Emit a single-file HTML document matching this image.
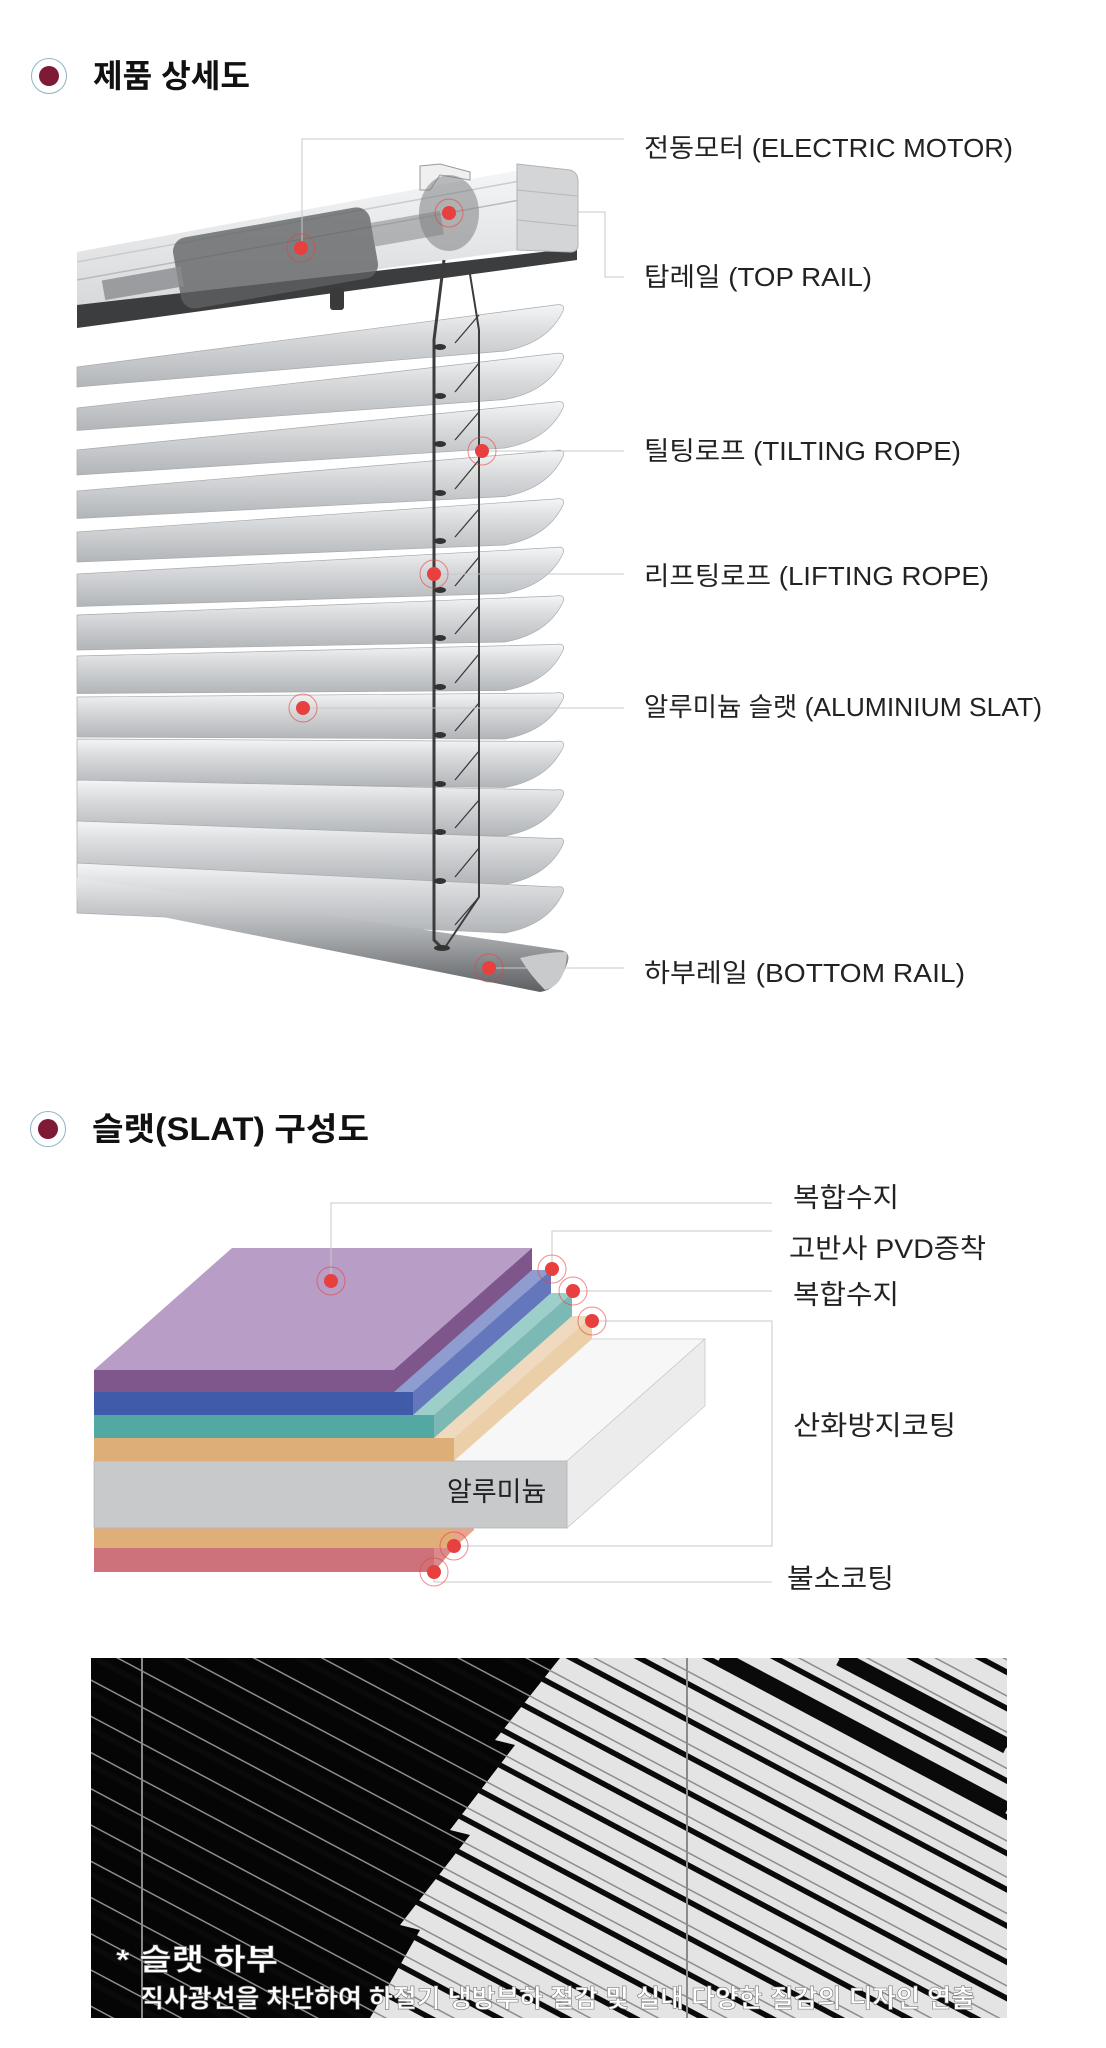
<!DOCTYPE html>
<html><head><meta charset="utf-8"><style>
html,body{margin:0;padding:0;background:#fff;width:1106px;height:2048px;overflow:hidden;}
svg{display:block;}
text{font-family:"Liberation Sans","Noto Sans CJK KR",sans-serif;}
</style></head><body>
<svg width="1106" height="2048" viewBox="0 0 1106 2048" xmlns="http://www.w3.org/2000/svg">
<defs>
<linearGradient id="slat" x1="0" y1="0" x2="0" y2="1">
<stop offset="0" stop-color="#f4f5f6"/><stop offset="0.35" stop-color="#d9dbdd"/><stop offset="1" stop-color="#b2b5b8"/></linearGradient>
<linearGradient id="rail" x1="0" y1="0" x2="0" y2="1">
<stop offset="0" stop-color="#f4f5f6"/><stop offset="1" stop-color="#d6d8da"/></linearGradient>
<linearGradient id="brail" x1="0" y1="0" x2="0" y2="1">
<stop offset="0" stop-color="#e8e9ea"/><stop offset="0.5" stop-color="#a9acaf"/><stop offset="1" stop-color="#5d6063"/></linearGradient>
<pattern id="stripes" patternUnits="userSpaceOnUse" x="0" y="0" width="200" height="32" patternTransform="rotate(28)">
<rect x="0" y="0" width="200" height="1.5" fill="#8c8c8c"/>
<rect x="0" y="9" width="200" height="5.5" fill="#0a0a0a"/>
</pattern>
<clipPath id="ph"><rect x="91" y="1658" width="916" height="360"/></clipPath>
</defs>
<!-- Section 1 title -->
<circle cx="49" cy="76" r="17.5" fill="#fff" stroke="#8fb2c8" stroke-width="1"/>
<circle cx="49" cy="76" r="10" fill="#7e1a36"/>
<text x="93" y="87" font-size="32" font-weight="bold" fill="#111" textLength="157" lengthAdjust="spacingAndGlyphs">제품 상세도</text>

<!-- Top rail -->
<polygon points="77,252 520,170 520,250 77,310" fill="url(#rail)"/>
<line x1="77" y1="262" x2="520" y2="181" stroke="#c9cbcd" stroke-width="1.5"/>
<line x1="77" y1="280" x2="520" y2="200" stroke="#b8babc" stroke-width="1.5"/>
<polygon points="77,305 577,248 577,260 77,328" fill="#3b3d3f"/>
<polygon points="420,166 440,164 470,172 470,180 440,175 430,190 420,190" fill="#f0f0f0" stroke="#999" stroke-width="1"/>
<path d="M517,164 L570,170 Q578,172 578,182 L578,246 Q577,252 570,252 L517,250 Z" fill="#d3d5d7" stroke="#b0b2b4"/>
<line x1="517" y1="190" x2="577" y2="196" stroke="#b5b7b9"/>
<line x1="517" y1="220" x2="577" y2="226" stroke="#b5b7b9"/>
<g transform="rotate(-10 275 255)">
<rect x="175" y="222" width="200" height="72" rx="14" fill="#5f6163" opacity="0.78"/>
<rect x="100" y="250" width="80" height="20" fill="#8a8c8e" opacity="0.8"/>
<rect x="375" y="240" width="70" height="24" fill="#8d8f91" opacity="0.6"/>
</g>
<ellipse cx="449" cy="213" rx="30" ry="38" fill="#7d7f81" opacity="0.55"/>
<rect x="330" y="288" width="14" height="22" rx="3" fill="#3a3a3a"/>

<!-- slats -->
<g fill="url(#slat)" stroke="#a7abaf" stroke-width="0.7">
<path d="M77,367 L555,305 Q566,303 563,311 Q548,343 505,351 L77,387 Z"/>
<path d="M77,408 L555,353.5 Q566,351.5 563,359.5 Q548,391.5 505,399.5 L77,430.5 Z"/>
<path d="M77,450 L555,402 Q566,400 563,408 Q548,440 505,448 L77,475 Z"/>
<path d="M77,491 L555,450.5 Q566,448.5 563,456.5 Q548,488.5 505,496.5 L77,518.5 Z"/>
<path d="M77,532 L555,499 Q566,497 563,505 Q548,537 505,545 L77,562 Z"/>
<path d="M77,574 L555,547.5 Q566,545.5 563,553.5 Q548,585.5 505,593.5 L77,606.5 Z"/>
<path d="M77,615 L555,596 Q566,594 563,602 Q548,634 505,642 L77,650 Z"/>
<path d="M77,656 L555,644.5 Q566,642.5 563,650.5 Q548,682.5 505,690.5 L77,693.5 Z"/>
<path d="M77,697 L555,693 Q566,691 563,699 Q548,731 505,739 L77,737 Z"/>
<path d="M77,739 L555,741.5 Q566,739.5 563,747.5 Q548,779.5 505,787.5 L77,781.5 Z"/>
<path d="M77,780 L555,790 Q566,788 563,796 Q548,828 505,836 L77,825 Z"/>
<path d="M77,821 L555,838.5 Q566,836.5 563,844.5 Q548,876.5 505,884.5 L77,868.5 Z"/>
<path d="M77,863 L555,887 Q566,885 563,893 Q548,925 505,933 L77,913 Z"/>
</g>
<path d="M77,878 L560,950 Q572,952 567,964 Q558,990 540,992 L77,900 Z" fill="url(#brail)"/>
<path d="M520,958 Q545,952 567,952 Q566,985 545,990 Q530,975 520,958 Z" fill="#c8cacc"/>

<!-- ropes -->
<g stroke="#3c3c3c" fill="none">
<polyline points="444,260 434,340 434,940 442,948" stroke-width="3"/>
<polyline points="468,262 479,330 479,897 446,946" stroke-width="2"/>
<g stroke-width="1.3">
<line x1="479" y1="315" x2="455" y2="343"/><line x1="479" y1="363" x2="455" y2="392"/>
<line x1="479" y1="412" x2="455" y2="440"/><line x1="479" y1="460" x2="455" y2="489"/>
<line x1="479" y1="509" x2="455" y2="537"/><line x1="479" y1="557" x2="455" y2="586"/>
<line x1="479" y1="606" x2="455" y2="634"/><line x1="479" y1="654" x2="455" y2="683"/>
<line x1="479" y1="703" x2="455" y2="731"/><line x1="479" y1="751" x2="455" y2="780"/>
<line x1="479" y1="800" x2="455" y2="828"/><line x1="479" y1="848" x2="455" y2="877"/>
<line x1="479" y1="897" x2="455" y2="925"/>
</g></g>
<g fill="#333">
<ellipse cx="440" cy="347" rx="6" ry="3"/><ellipse cx="440" cy="396" rx="6" ry="3"/>
<ellipse cx="440" cy="444" rx="6" ry="3"/><ellipse cx="440" cy="493" rx="6" ry="3"/>
<ellipse cx="440" cy="541" rx="6" ry="3"/><ellipse cx="440" cy="590" rx="6" ry="3"/>
<ellipse cx="440" cy="638" rx="6" ry="3"/><ellipse cx="440" cy="687" rx="6" ry="3"/>
<ellipse cx="440" cy="735" rx="6" ry="3"/><ellipse cx="440" cy="784" rx="6" ry="3"/>
<ellipse cx="440" cy="832" rx="6" ry="3"/><ellipse cx="440" cy="881" rx="6" ry="3"/>
<ellipse cx="442" cy="948" rx="8" ry="3"/>
</g>

<g stroke="#c8c8c8" stroke-width="1" fill="none">
<polyline points="302,248 302,139 624,139"/>
<polyline points="577,212 605,212 605,277 624,277"/>
<line x1="482" y1="451" x2="624" y2="451"/>
<line x1="434" y1="574" x2="624" y2="574"/>
<line x1="303" y1="708" x2="624" y2="708"/>
<line x1="489" y1="968" x2="624" y2="968"/>
</g>
<g fill="#e8403f">
<circle cx="301" cy="248" r="7"/><circle cx="449" cy="213" r="7"/><circle cx="482" cy="451" r="7"/>
<circle cx="434" cy="574" r="7"/><circle cx="303" cy="708" r="7"/><circle cx="489" cy="968" r="7"/>
</g>
<g fill="none" stroke="#e8403f" stroke-opacity="0.6" stroke-width="1">
<circle cx="301" cy="248" r="14"/><circle cx="449" cy="213" r="14"/><circle cx="482" cy="451" r="14"/>
<circle cx="434" cy="574" r="14"/><circle cx="303" cy="708" r="14"/><circle cx="489" cy="968" r="14"/>
</g>
<g font-size="26" fill="#222">
<text x="644" y="157" textLength="369" lengthAdjust="spacingAndGlyphs">전동모터 (ELECTRIC MOTOR)</text>
<text x="644" y="286" textLength="228" lengthAdjust="spacingAndGlyphs">탑레일 (TOP RAIL)</text>
<text x="644" y="460" textLength="317" lengthAdjust="spacingAndGlyphs">틸팅로프 (TILTING ROPE)</text>
<text x="644" y="585" textLength="345" lengthAdjust="spacingAndGlyphs">리프팅로프 (LIFTING ROPE)</text>
<text x="644" y="716" textLength="398" lengthAdjust="spacingAndGlyphs">알루미늄 슬랫 (ALUMINIUM SLAT)</text>
<text x="644" y="982" textLength="321" lengthAdjust="spacingAndGlyphs">하부레일 (BOTTOM RAIL)</text>
</g>

<!-- Section 2 title -->
<circle cx="48" cy="1129" r="17.5" fill="#fff" stroke="#8fb2c8" stroke-width="1"/>
<circle cx="48" cy="1129" r="10" fill="#7e1a36"/>
<text x="92" y="1140" font-size="32" font-weight="bold" fill="#111" textLength="277" lengthAdjust="spacingAndGlyphs">슬랫(SLAT) 구성도</text>

<rect x="94" y="1548" width="340" height="24" fill="#cd727b"/>
<polygon points="434,1548 454,1530 454,1548 434,1572" fill="#d98a8a"/>
<rect x="94" y="1528" width="360" height="20" fill="#e0ae78"/>
<polygon points="454,1528 474,1510 474,1530 454,1548" fill="#e7a58e"/>
<polygon points="94,1461 232,1339 705,1339 567,1461" fill="#f7f7f7" stroke="#c9c9c9" stroke-width="0.8"/>
<polygon points="567,1461 705,1339 705,1406 567,1528" fill="#ececec" stroke="#c9c9c9" stroke-width="0.8"/>
<rect x="94" y="1461" width="473" height="67" fill="#c8c9cb" stroke="#b5b6b8" stroke-width="0.8"/>
<text x="447" y="1501" font-size="27" fill="#222">알루미늄</text>
<polygon points="94,1438 232,1316 592,1316 454,1438" fill="#f0dabf"/>
<polygon points="454,1438 592,1316 592,1339 454,1461" fill="#ebcfa8"/>
<rect x="94" y="1438" width="360" height="23" fill="#deae78"/>
<polygon points="94,1415 232,1293 572,1293 434,1415" fill="#9ccfca"/>
<polygon points="434,1415 572,1293 572,1316 434,1438" fill="#7cb9b4"/>
<rect x="94" y="1415" width="340" height="23" fill="#53a8a3"/>
<polygon points="94,1392 232,1270 551,1270 413,1392" fill="#8f9cd0"/>
<polygon points="413,1392 551,1270 551,1293 413,1415" fill="#6577bc"/>
<rect x="94" y="1392" width="319" height="23" fill="#3f5ba9"/>
<polygon points="94,1370 232,1248 532,1248 394,1370" fill="#b89dc6"/>
<polygon points="394,1370 532,1248 532,1270 394,1392" fill="#7e568b"/>
<rect x="94" y="1370" width="300" height="22" fill="#80578d"/>

<g stroke="#c8c8c8" stroke-width="1" fill="none">
<polyline points="331,1281 331,1203 772,1203"/>
<polyline points="552,1269 552,1231 772,1231"/>
<line x1="573" y1="1291" x2="772" y2="1291"/>
<polyline points="592,1321 772,1321 772,1546 454,1546"/>
<polyline points="434,1572 434,1582 772,1582"/>
</g>
<g fill="#e8403f">
<circle cx="331" cy="1281" r="7"/><circle cx="552" cy="1269" r="7"/><circle cx="573" cy="1291" r="7"/>
<circle cx="592" cy="1321" r="7"/><circle cx="454" cy="1546" r="7"/><circle cx="434" cy="1572" r="7"/>
</g>
<g fill="none" stroke="#e8403f" stroke-opacity="0.6" stroke-width="1">
<circle cx="331" cy="1281" r="14"/><circle cx="552" cy="1269" r="14"/><circle cx="573" cy="1291" r="14"/>
<circle cx="592" cy="1321" r="14"/><circle cx="454" cy="1546" r="14"/><circle cx="434" cy="1572" r="14"/>
</g>
<g font-size="27" fill="#222">
<text x="793" y="1207" textLength="106" lengthAdjust="spacingAndGlyphs">복합수지</text>
<text x="789" y="1258" textLength="197" lengthAdjust="spacingAndGlyphs">고반사 PVD증착</text>
<text x="793" y="1304" textLength="106" lengthAdjust="spacingAndGlyphs">복합수지</text>
<text x="793" y="1435" textLength="163" lengthAdjust="spacingAndGlyphs">산화방지코팅</text>
<text x="787" y="1588" textLength="107" lengthAdjust="spacingAndGlyphs">불소코팅</text>
</g>

<!-- photo -->
<rect x="91" y="1658" width="916" height="360" fill="#050505"/>
<polygon points="560,1658 1007,1658 1007,2018 370,2018 420,1930 400,1925 470,1835 450,1830 515,1745 495,1740" fill="#e4e4e4"/>
<rect x="91" y="1658" width="916" height="360" fill="url(#stripes)"/>
<g clip-path="url(#ph)" stroke="#0a0a0a" stroke-width="16">
<line x1="720" y1="1658" x2="1007" y2="1810"/>
<line x1="840" y1="1658" x2="1007" y2="1746"/>
</g>
<line x1="142" y1="1658" x2="142" y2="2018" stroke="#8a8a8a" stroke-width="2"/>
<line x1="687" y1="1658" x2="687" y2="2018" stroke="#8a8a8a" stroke-width="2"/>
<text x="116" y="1970" font-size="30" font-weight="bold" fill="#fff" stroke="#555" stroke-width="0.6" textLength="162" lengthAdjust="spacingAndGlyphs">* 슬랫 하부</text>
<text x="140" y="2007" font-size="25" font-weight="bold" fill="#fff" stroke="#777" stroke-width="0.6" textLength="835" lengthAdjust="spacingAndGlyphs">직사광선을 차단하여 하절기 냉방부하 절감 및 실내 다양한 질감의 디자인 연출</text>
</svg>
</body></html>
